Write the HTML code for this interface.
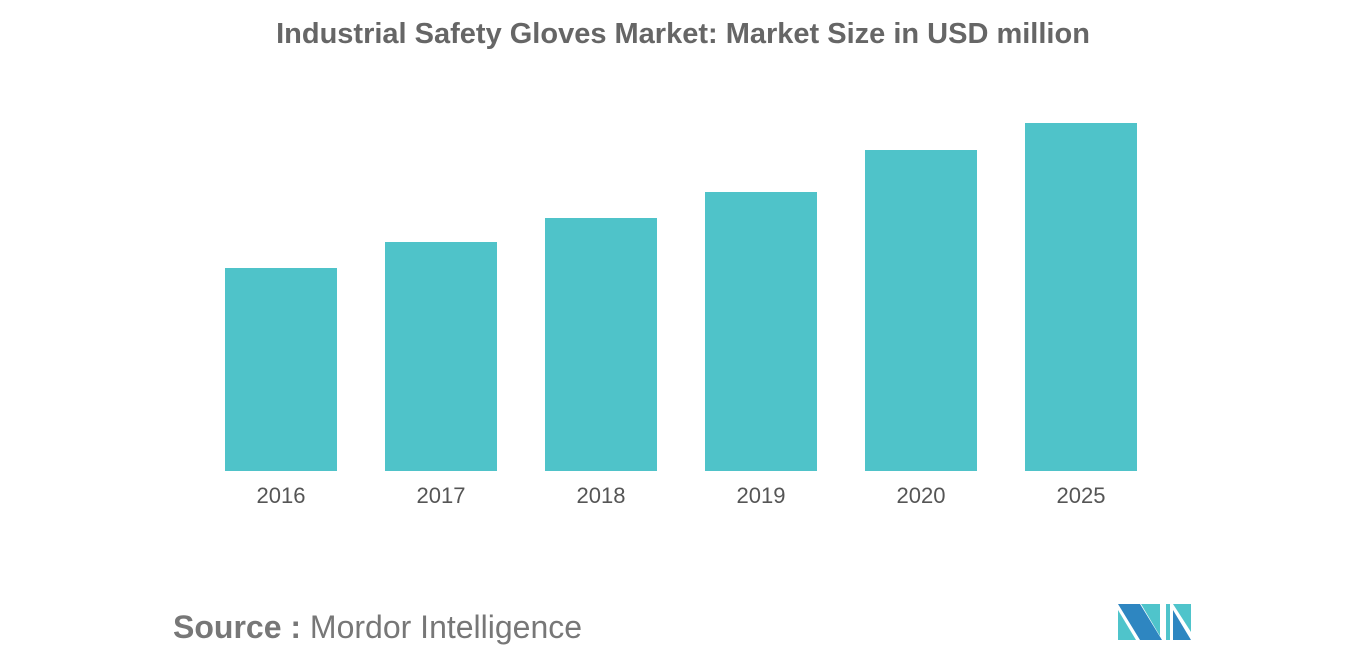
<!DOCTYPE html>
<html><head><meta charset="utf-8"><style>
body{margin:0;width:1366px;height:655px;background:#fff;font-family:"Liberation Sans",sans-serif;overflow:hidden}
</style></head><body>
<svg width="1366" height="655">
<text x="683" y="43" text-anchor="middle" font-size="29" font-weight="bold" fill="#666">Industrial Safety Gloves Market: Market Size in USD million</text>
<g id="bars"></g>
<g id="xlabels"></g>
<text x="173" y="638" font-size="32" fill="#777"><tspan font-weight="bold">Source :</tspan> Mordor Intelligence</text>
<g>
<polygon points="1118,604 1140,604 1162,640 1140,640" fill="#2e86c1"/>
<polygon points="1118,610 1136,640 1118,640" fill="#4fc4cb"/>
<polygon points="1141,604 1160,604 1160,636" fill="#4fc4cb"/>
<polygon points="1166,604 1170,604 1170,640 1166,640" fill="#4fc4cb"/>
<polygon points="1173,604 1191,604 1191,632" fill="#4fc4cb"/>
<polygon points="1173,610 1191,640 1173,640" fill="#2e86c1"/>
</g>
</svg>
<script>
const categories=["2016","2017","2018","2019","2020","2025"];
const values=[203,229,253,279,321,348];
const yMax=348;
const baseY=471,plotH=348,x0=225,step=160,bw=112;
const yScale=v=>baseY-v/yMax*plotH;
const xScale=i=>x0+i*step;
const ns="http://www.w3.org/2000/svg";
const bars=document.getElementById('bars'),xl=document.getElementById('xlabels');
categories.forEach((c,i)=>{
 const r=document.createElementNS(ns,'rect');
 r.setAttribute('x',xScale(i));r.setAttribute('width',bw);
 r.setAttribute('y',yScale(values[i]));r.setAttribute('height',baseY-yScale(values[i]));
 r.setAttribute('fill','#4fc3c9');
 
 
 bars.appendChild(r);
 const t=document.createElementNS(ns,'text');
 t.setAttribute('x',xScale(i)+bw/2);t.setAttribute('y',503);
 t.setAttribute('text-anchor','middle');t.setAttribute('font-size','22');t.setAttribute('fill','#555');
 t.textContent=c;
 
 
 xl.appendChild(t);
});
</script>
</body></html>
